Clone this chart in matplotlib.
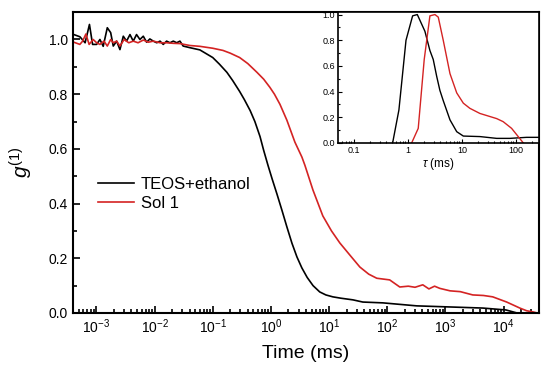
#Imports
import matplotlib
matplotlib.use("Agg")
import matplotlib.pyplot as plt
from matplotlib.ticker import LogLocator, MultipleLocator, NullFormatter, FixedLocator, FixedFormatter

plt.rcParams['font.family'] = ['Liberation Sans', 'DejaVu Sans']
plt.rcParams['mathtext.fontset'] = 'custom'
plt.rcParams['mathtext.rm'] = 'Liberation Sans'
plt.rcParams['mathtext.it'] = 'Liberation Sans:italic'

#Correlation function g(1), TEOS+ethanol
t_black = [4.1e-4, 5.2e-4, 6.4e-4, 7.6e-4, 8.6e-4, 1.01e-3, 1.15e-3, 1.31e-3, 1.54e-3, 1.76e-3,
           1.95e-3, 2.23e-3, 2.54e-3, 2.9e-3, 3.3e-3, 3.78e-3, 4.3e-3, 4.9e-3, 5.6e-3, 6.4e-3,
           7.3e-3, 8.3e-3, 9.5e-3, 0.0109, 0.0124, 0.0141, 0.0161, 0.0184, 0.021, 0.024,
           0.0273, 0.031, 0.0406, 0.06, 0.1, 0.13, 0.175, 0.22, 0.29, 0.35,
           0.44, 0.53, 0.65, 0.75, 0.89, 1.05, 1.27, 1.55, 1.88, 2.3,
           2.8, 3.4, 4.2, 5.3, 6.9, 8.8, 11.6, 16, 25.7, 38,
           84, 323, 1200, 4400, 11000, 17000]
g_black = [1.018, 1.010, 0.988, 1.055, 0.982, 0.982, 1.000, 0.975, 1.043, 1.025,
           0.976, 0.994, 0.963, 1.012, 0.994, 1.018, 0.994, 1.018, 1.000, 1.012,
           0.990, 1.002, 0.994, 0.988, 0.994, 0.982, 0.994, 0.988, 0.994, 0.988,
           0.994, 0.976, 0.970, 0.962, 0.934, 0.910, 0.880, 0.850, 0.810, 0.780,
           0.740, 0.700, 0.645, 0.595, 0.540, 0.490, 0.435, 0.375, 0.315, 0.255,
           0.205, 0.165, 0.130, 0.100, 0.077, 0.066, 0.059, 0.054, 0.048, 0.040,
           0.037, 0.026, 0.022, 0.018, 0.011, 0.0]

#Correlation function g(1), Sol 1
t_red = [4.1e-4, 5.2e-4, 5.8e-4, 6.6e-4, 7.5e-4, 8.8e-4, 1.01e-3, 1.15e-3, 1.35e-3, 1.54e-3,
         1.76e-3, 1.95e-3, 2.23e-3, 2.54e-3, 3.0e-3, 3.6e-3, 4.3e-3, 5.2e-3, 6.4e-3, 7.8e-3,
         9.5e-3, 0.0124, 0.0161, 0.0210, 0.0273, 0.0406, 0.06, 0.1, 0.15, 0.2,
         0.29, 0.4, 0.575, 0.75, 0.96, 1.15, 1.43, 1.88, 2.58, 3.41,
         3.84, 5.27, 7.8, 11, 15.3, 22.7, 33.8, 48, 66, 110,
         164, 230, 300, 408, 520, 650, 800, 1200, 1800, 2950,
         4500, 6500, 11300, 19000, 25000, 32000, 38000]
g_red = [0.990, 0.982, 0.994, 1.020, 0.982, 1.000, 0.988, 0.982, 0.994, 0.976,
         1.000, 0.988, 0.994, 0.976, 1.000, 0.988, 0.994, 0.988, 0.998, 0.990,
         0.994, 0.988, 0.988, 0.986, 0.985, 0.978, 0.975, 0.968, 0.960, 0.950,
         0.934, 0.912, 0.880, 0.855, 0.825, 0.800, 0.763, 0.705, 0.625, 0.570,
         0.540, 0.450, 0.355, 0.300, 0.256, 0.212, 0.168, 0.142, 0.127, 0.121,
         0.095, 0.098, 0.094, 0.103, 0.088, 0.098, 0.090, 0.081, 0.078, 0.066,
         0.064, 0.059, 0.040, 0.018, 0.008, 0.004, 0.0]

#Inset: relaxation time distributions
tau_black = [0.52, 0.68, 0.92, 1.22, 1.49, 2.06, 2.55, 2.94, 3.4, 3.9,
             4.5, 6.0, 8.0, 10.6, 21.5, 43.9, 77, 157, 300]
p_black = [0.0, 0.257, 0.80, 0.99, 1.0, 0.87, 0.72, 0.65, 0.52, 0.41,
           0.33, 0.18, 0.088, 0.054, 0.050, 0.036, 0.036, 0.044, 0.044]
tau_red = [1.17, 1.55, 2.0, 2.55, 3.16, 3.64, 4.5, 6.0, 8.0, 10.6,
           14.0, 21.5, 43.9, 58, 83, 110, 137]
p_red = [0.0, 0.114, 0.65, 0.99, 1.0, 0.98, 0.80, 0.54, 0.39, 0.31,
         0.27, 0.23, 0.19, 0.166, 0.114, 0.05, 0.0]

main_ticks = [1e-3, 1e-2, 1e-1, 1e0, 1e1, 1e2, 1e3, 1e4]
main_labels = ['$10^{-3}$', '$10^{-2}$', '$10^{-1}$', '$10^{0}$', '$10^{1}$', '$10^{2}$', '$10^{3}$', '$10^{4}$']
inset_ticks = [0.1, 1, 10, 100]
inset_labels = ['0.1', '1', '10', '100']

red = '#d42323'

fig = plt.figure(figsize=(5.5, 3.77), dpi=100)
ax = fig.add_axes([0.1327, 0.1698, 0.847, 0.798])
ax.plot(t_black, g_black, color='black', lw=1.2, label='TEOS+ethanol')
ax.plot(t_red, g_red, color=red, lw=1.2, label='Sol 1')
ax.set_xscale('log')
ax.set_xlim(3.96e-4, 4.03e4)
ax.set_ylim(0, 1.10)
ax.xaxis.set_major_locator(FixedLocator(main_ticks))
ax.xaxis.set_major_formatter(FixedFormatter(main_labels))
ax.xaxis.set_minor_locator(LogLocator(base=10, subs=range(2, 10), numticks=20))
ax.xaxis.set_minor_formatter(NullFormatter())
ax.set_yticks([0, 0.2, 0.4, 0.6, 0.8, 1.0])
ax.set_yticklabels(['0.0', '0.2', '0.4', '0.6', '0.8', '1.0'])
ax.yaxis.set_minor_locator(MultipleLocator(0.1))
ax.tick_params(which='both', direction='in', labelsize=10, width=1.2)
ax.tick_params(which='major', length=5)
ax.tick_params(which='minor', length=3)
for s in ax.spines.values():
    s.set_linewidth(1.5)
ax.set_xlabel('Time (ms)', fontsize=14, labelpad=6)
ax.set_ylabel('$g^{(1)}$', fontsize=15, labelpad=10)
ax.legend(loc='upper left', bbox_to_anchor=(0.035, 0.48), frameon=False, fontsize=12,
          handlelength=2.2, handletextpad=0.4, labelspacing=0.25, borderpad=0)

#inset
axi = fig.add_axes([0.6145, 0.6207, 0.3655, 0.3475])
axi.plot(tau_black, p_black, color='black', lw=1.0)
axi.plot(tau_red, p_red, color=red, lw=1.0)
axi.set_xscale('log')
axi.set_xlim(0.0506, 267)
axi.set_ylim(0, 1.02)
axi.xaxis.set_major_locator(FixedLocator(inset_ticks))
axi.xaxis.set_major_formatter(FixedFormatter(inset_labels))
axi.xaxis.set_minor_locator(LogLocator(base=10, subs=range(2, 10), numticks=20))
axi.xaxis.set_minor_formatter(NullFormatter())
axi.set_yticks([0, 0.2, 0.4, 0.6, 0.8, 1.0])
axi.set_yticklabels(['0.0', '0.2', '0.4', '0.6', '0.8', '1.0'])
axi.yaxis.set_minor_locator(MultipleLocator(0.1))
axi.tick_params(which='both', direction='in', labelsize=6.5, width=0.8, pad=2)
axi.tick_params(which='major', length=3)
axi.tick_params(which='minor', length=1.5)
for s in axi.spines.values():
    s.set_linewidth(1.2)
axi.set_xlabel(r'$\tau$ (ms)', fontsize=8.5, labelpad=1)

fig.savefig('out.png', dpi=100)
